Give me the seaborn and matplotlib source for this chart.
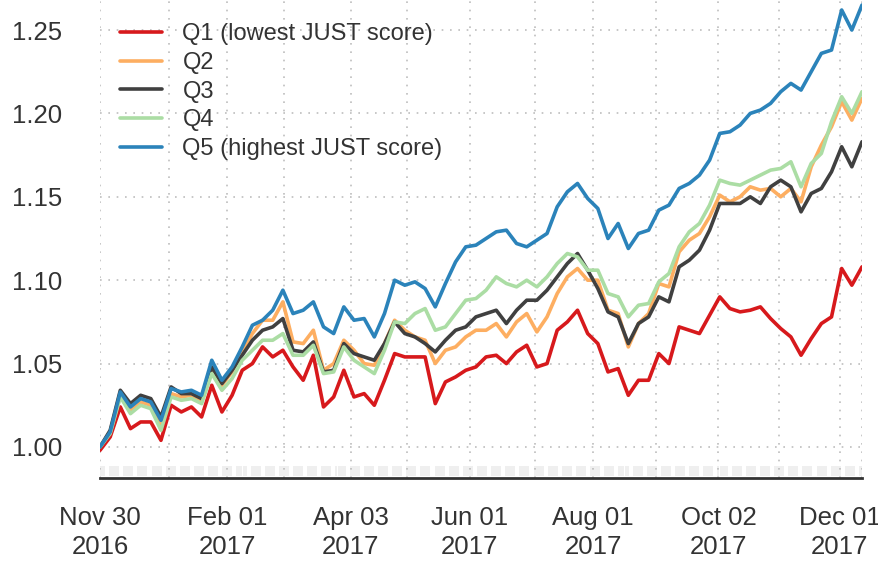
import pandas as pd
import matplotlib.pyplot as plt
import seaborn as sns

# cumulative value of JUST score quintile portfolios, sampled about every 5 days
dates = pd.date_range("2016-11-30", "2017-12-12", periods=76)

q1 = [0.998, 1.006, 1.024, 1.011, 1.015, 1.015, 1.004, 1.025, 1.021, 1.024,
      1.018, 1.037, 1.021, 1.031, 1.046, 1.050, 1.060, 1.054, 1.058, 1.048,
      1.040, 1.055, 1.024, 1.030, 1.046, 1.030, 1.032, 1.025, 1.040, 1.056,
      1.054, 1.054, 1.054, 1.026, 1.039, 1.042, 1.046, 1.048, 1.054, 1.055,
      1.050, 1.057, 1.061, 1.048, 1.050, 1.070, 1.075, 1.082, 1.068, 1.062,
      1.045, 1.047, 1.031, 1.040, 1.040, 1.056, 1.050, 1.072, 1.070, 1.068,
      1.079, 1.090, 1.083, 1.081, 1.082, 1.084, 1.077, 1.071, 1.066, 1.055,
      1.065, 1.074, 1.078, 1.107, 1.097, 1.108]
q2 = [1.000, 1.009, 1.031, 1.022, 1.027, 1.025, 1.013, 1.032, 1.030, 1.031,
      1.028, 1.047, 1.037, 1.045, 1.057, 1.068, 1.076, 1.076, 1.087, 1.063,
      1.062, 1.070, 1.046, 1.050, 1.064, 1.058, 1.050, 1.049, 1.062, 1.076,
      1.070, 1.066, 1.064, 1.050, 1.058, 1.060, 1.066, 1.070, 1.070, 1.074,
      1.066, 1.075, 1.080, 1.069, 1.078, 1.092, 1.102, 1.107, 1.100, 1.100,
      1.082, 1.080, 1.060, 1.074, 1.080, 1.098, 1.096, 1.117, 1.124, 1.128,
      1.138, 1.151, 1.147, 1.150, 1.156, 1.154, 1.155, 1.150, 1.155, 1.147,
      1.168, 1.181, 1.192, 1.207, 1.196, 1.209]
q3 = [1.000, 1.010, 1.034, 1.026, 1.031, 1.029, 1.018, 1.036, 1.032, 1.032,
      1.029, 1.048, 1.038, 1.046, 1.055, 1.064, 1.070, 1.072, 1.077, 1.058,
      1.057, 1.063, 1.045, 1.046, 1.062, 1.056, 1.054, 1.052, 1.062, 1.075,
      1.068, 1.066, 1.062, 1.057, 1.064, 1.070, 1.072, 1.078, 1.080, 1.082,
      1.074, 1.082, 1.088, 1.088, 1.094, 1.102, 1.110, 1.116, 1.106, 1.095,
      1.081, 1.078, 1.062, 1.074, 1.078, 1.090, 1.087, 1.108, 1.112, 1.118,
      1.130, 1.146, 1.146, 1.146, 1.150, 1.146, 1.156, 1.160, 1.156, 1.141,
      1.152, 1.155, 1.165, 1.180, 1.168, 1.183]
q4 = [1.000, 1.008, 1.030, 1.020, 1.025, 1.023, 1.010, 1.030, 1.028, 1.029,
      1.026, 1.044, 1.034, 1.041, 1.052, 1.058, 1.064, 1.064, 1.068, 1.055,
      1.055, 1.061, 1.044, 1.045, 1.060, 1.052, 1.048, 1.044, 1.058, 1.075,
      1.074, 1.080, 1.083, 1.070, 1.072, 1.080, 1.088, 1.089, 1.094, 1.102,
      1.098, 1.096, 1.100, 1.096, 1.102, 1.110, 1.116, 1.114, 1.106, 1.106,
      1.092, 1.090, 1.078, 1.085, 1.086, 1.099, 1.104, 1.120, 1.129, 1.134,
      1.145, 1.160, 1.158, 1.157, 1.160, 1.163, 1.166, 1.167, 1.171, 1.156,
      1.170, 1.176, 1.195, 1.210, 1.200, 1.213]
q5 = [1.000, 1.009, 1.033, 1.024, 1.029, 1.027, 1.016, 1.035, 1.033, 1.034,
      1.031, 1.052, 1.040, 1.048, 1.060, 1.073, 1.076, 1.082, 1.094, 1.080,
      1.082, 1.087, 1.072, 1.068, 1.084, 1.076, 1.077, 1.066, 1.080, 1.100,
      1.097, 1.099, 1.095, 1.084, 1.098, 1.111, 1.120, 1.121, 1.125, 1.129,
      1.130, 1.122, 1.120, 1.124, 1.128, 1.144, 1.153, 1.158, 1.149, 1.143,
      1.125, 1.134, 1.119, 1.128, 1.130, 1.142, 1.145, 1.155, 1.158, 1.163,
      1.172, 1.188, 1.189, 1.193, 1.200, 1.202, 1.206, 1.213, 1.218, 1.214,
      1.225, 1.236, 1.238, 1.262, 1.250, 1.265]

series_names = ["Q1 (lowest JUST score)", "Q2", "Q3", "Q4", "Q5 (highest JUST score)"]
colors = ["#D7191C", "#FDAE61", "#404040", "#ABDDA4", "#2B83BA"]

y_ticks = [1.00, 1.05, 1.10, 1.15, 1.20, 1.25]
major_dates = ["2016-11-30", "2017-02-01", "2017-04-03", "2017-06-01",
               "2017-08-01", "2017-10-02", "2017-12-01"]
major_labels = ["Nov 30\n2016", "Feb 01\n2017", "Apr 03\n2017", "Jun 01\n2017",
                "Aug 01\n2017", "Oct 02\n2017", "Dec 01\n2017"]
minor_dates = ["2017-01-03", "2017-03-01", "2017-05-01", "2017-07-03",
               "2017-09-01", "2017-11-01"]

df = pd.DataFrame({"date": dates})
for name, vals in zip(series_names, [q1, q2, q3, q4, q5]):
    df[name] = vals
df = df.melt(id_vars="date", var_name="series", value_name="value")

sns.set_style("white")
plt.rcParams["font.family"] = ["Liberation Sans", "DejaVu Sans"]

fig = plt.figure(figsize=(8.79, 5.63), dpi=100)
ax = fig.add_axes([100 / 879, 85 / 563, 762 / 879, 478 / 563])

sns.lineplot(data=df, x="date", y="value", hue="series", hue_order=series_names,
             palette=dict(zip(series_names, colors)), linewidth=2.6, ax=ax)

# light observation strip above the time axis
bdays = pd.bdate_range(dates[0], dates[-1])
ax.vlines(bdays, 0.9826, 0.9886, color="#ececec", lw=1.2, zorder=0)

ax.set_xlim(dates[0], dates[-1])
ax.set_ylim(0.9814, 1.268)
ax.set_yticks(y_ticks)
ax.set_yticklabels([f"{v:.2f}" for v in y_ticks])
ax.set_xticks(pd.to_datetime(major_dates))
ax.set_xticklabels(major_labels, linespacing=1.28)
ax.set_xticks(list(pd.to_datetime(minor_dates)) + [dates[-1]], minor=True)

ax.grid(True, which="both", linestyle=(0, (1, 4)), color="#bdbdbd", lw=1.2)
ax.set_axisbelow(True)

ax.tick_params(axis="x", which="both", length=10, width=1.5, color="#333333",
               direction="out", pad=10, labelsize=18.5, labelcolor="#333333")
ax.tick_params(axis="y", length=0, pad=27, labelsize=18.5, labelcolor="#333333")

for side in ["top", "right", "left"]:
    ax.spines[side].set_visible(False)
ax.spines["bottom"].set_color("#333333")
ax.spines["bottom"].set_linewidth(2)

ax.set_xlabel("")
ax.set_ylabel("")

handles, labels = ax.get_legend_handles_labels()
ax.legend(handles, labels, loc="upper left", bbox_to_anchor=(0.026, 0.951),
          frameon=False, fontsize=17, handlelength=1.8, handletextpad=0.85,
          labelspacing=0.28, borderaxespad=0, borderpad=0, labelcolor="#333333")

fig.savefig("out.png", dpi=100)
